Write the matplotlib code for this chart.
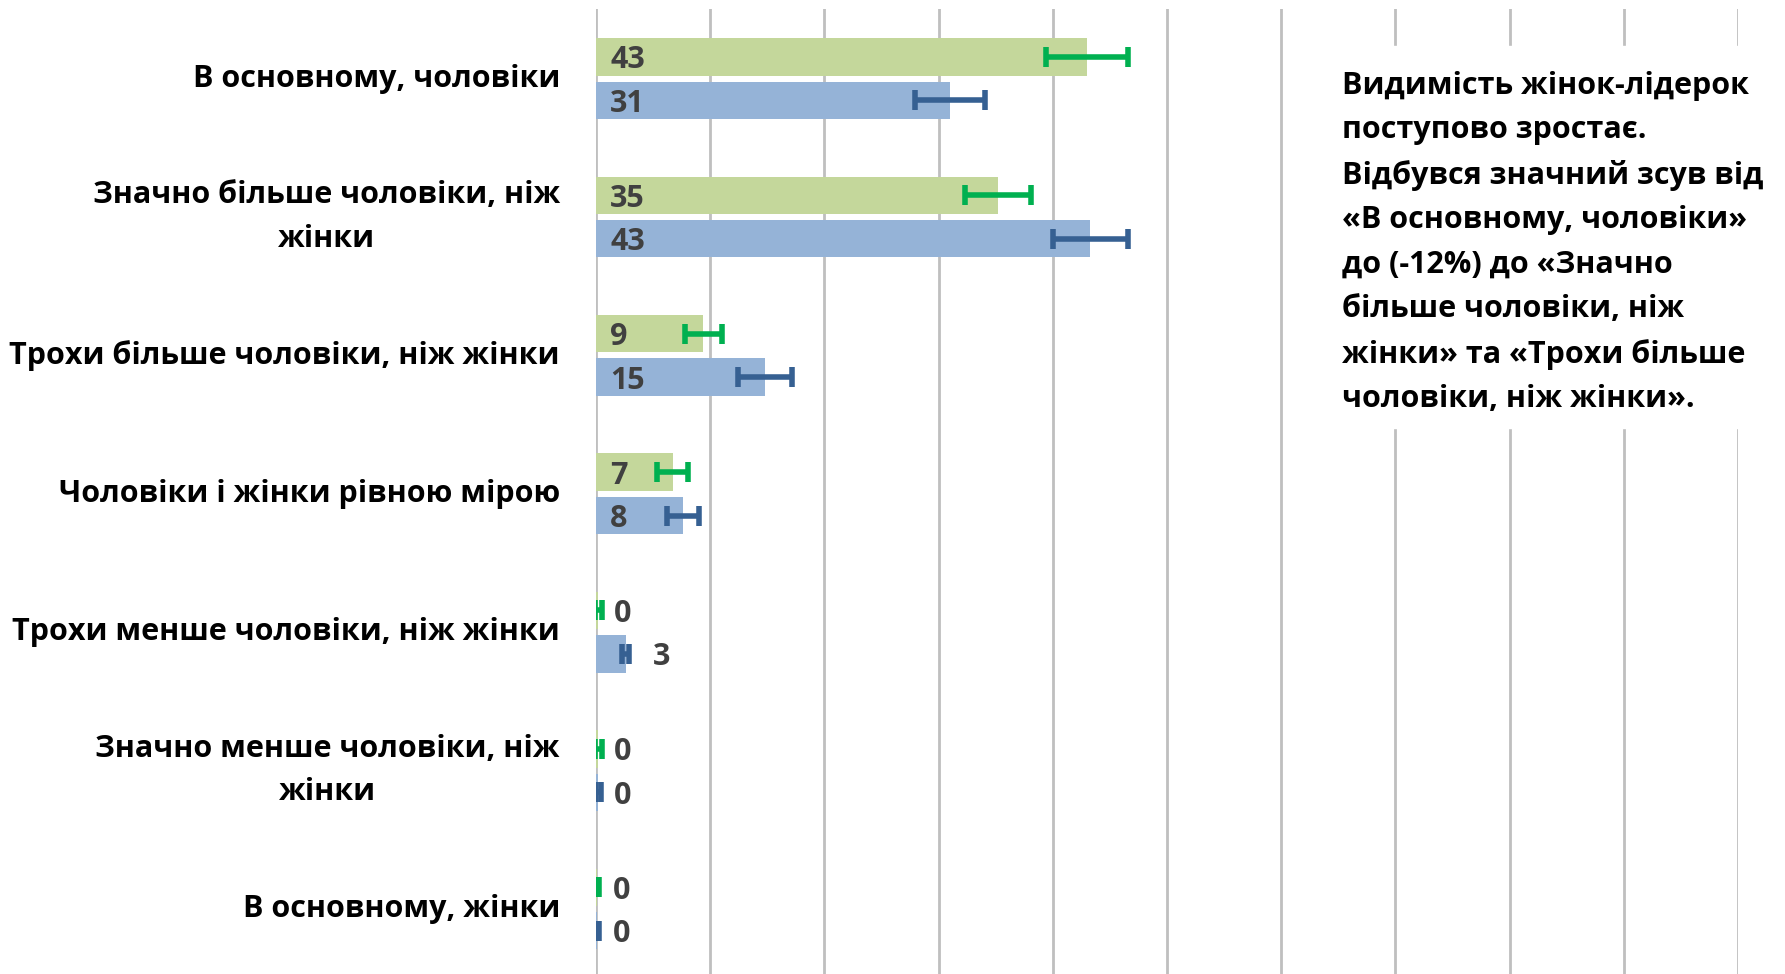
import matplotlib.pyplot as plt
import numpy as np
from matplotlib.patches import Rectangle

plt.rcParams['font.family'] = ['Open Sans', 'DejaVu Sans']

categories = ["В основному, чоловіки",
              "Значно більше чоловіки, ніж\nжінки",
              "Трохи більше чоловіки, ніж жінки",
              "Чоловіки і жінки рівною мірою",
              "Трохи менше чоловіки, ніж жінки",
              "Значно менше чоловіки, ніж\nжінки",
              "В основному, жінки"]

green_vals = [43.0, 35.2, 9.4, 6.7, 0.2, 0.2, 0.1]
green_err = [3.6, 2.9, 1.6, 1.35, 0.3, 0.3, 0.2]
green_labels = ["43", "35", "9", "7", "0", "0", "0"]

blue_vals = [31.0, 43.3, 14.8, 7.6, 2.6, 0.2, 0.1]
blue_err = [3.1, 3.3, 2.4, 1.4, 0.3, 0.2, 0.2]
blue_labels = ["31", "43", "15", "8", "3", "0", "0"]

note = ("Видимість жінок-лідерок\nпоступово зростає.\nВідбувся значний зсув від\n"
        "«В основному, чоловіки»\nдо (-12%) до «Значно\nбільше чоловіки, ніж\n"
        "жінки» та «Трохи більше\nчоловіки, ніж жінки».")

green = "#C4D79B"
blue = "#95B3D7"
green_dark = "#00B050"
blue_dark = "#366092"
label_col = "#404040"

def program_main():
    fig = plt.figure(figsize=(17.85, 9.74), dpi=100)
    ax = fig.add_axes([596 / 1785, 0, 1142 / 1785, 1 - 9 / 974])

    y = np.arange(len(categories))
    off = 0.157
    h = 0.27

    ax.barh(y - off, green_vals, height=h, color=green, zorder=2)
    ax.barh(y + off, blue_vals, height=h, color=blue, zorder=2)
    ax.errorbar(green_vals, y - off, xerr=green_err, fmt="none", ecolor=green_dark,
                elinewidth=4, capsize=7, capthick=4, zorder=3)
    ax.errorbar(blue_vals, y + off, xerr=blue_err, fmt="none", ecolor=blue_dark,
                elinewidth=4, capsize=7, capthick=4, zorder=3)

    for vals, labs, dy in [(green_vals, green_labels, -off), (blue_vals, blue_labels, off)]:
        for i, (v, lab) in enumerate(zip(vals, labs)):
            x = 1.25 if v >= 5 else 1.3 + 1.4 * v
            ax.text(x, i + dy, lab, va="center_baseline", ha="left", fontsize=22,
                    fontweight="bold", color=label_col, zorder=4)

    ax.set_xlim(0, 100)
    ax.set_ylim(6.47, -0.503)
    ax.set_xticks(np.arange(0, 101, 10))
    ax.xaxis.grid(True, color="#BFBFBF", linewidth=2, zorder=0)
    ax.set_axisbelow(True)
    ax.tick_params(axis="x", length=0, labelbottom=False)
    ax.tick_params(axis="y", length=0, pad=26)
    ax.set_yticks(y)
    ax.set_yticklabels(categories, fontsize=22, fontweight="bold", linespacing=1.6,
                       multialignment="center", va="center")
    for s in ax.spines.values():
        s.set_visible(False)

    fig.patches.append(Rectangle((1330 / 1785, 1 - 428 / 974), 440 / 1785, 382 / 974,
                                 transform=fig.transFigure, color="white", zorder=5))
    fig.text(1342 / 1785, 1 - 71 / 974, note, ha="left", va="top", fontsize=22,
             fontweight="bold", linespacing=1.62, zorder=6)

    plt.savefig("out.png")

program_main()
